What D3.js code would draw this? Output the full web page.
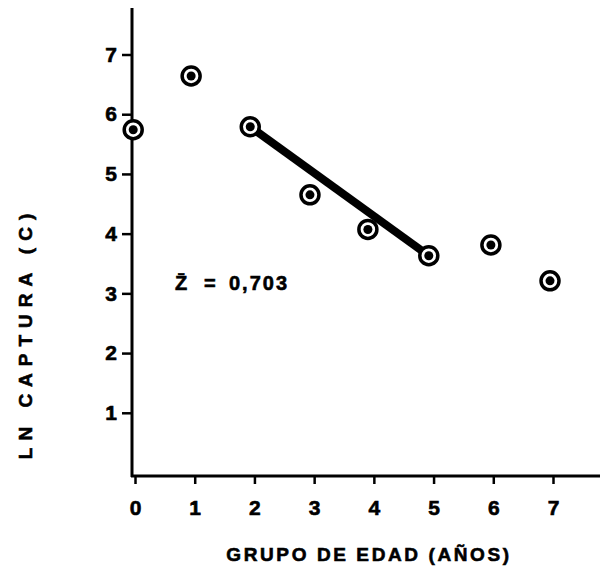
<!DOCTYPE html>
<html>
<head>
  <meta charset="UTF-8">
  <style>
    body { margin: 0; background: #fff; }
    text { font-family: "Liberation Sans", Arial, sans-serif; font-weight: bold; fill: #000; stroke: #000; stroke-width: 0.6px; }
  </style>
</head>
<body>
  <svg width="601" height="569" id="chart"></svg>
  <script src="https://cdn.jsdelivr.net/npm/d3@7"></script>
  <script>
    // age group vs ln of catch
    var ages = [-0.03, 0.94, 1.93, 2.93, 3.9, 4.92, 5.96, 6.95];
    var lnCatch = [5.74, 6.64, 5.79, 4.65, 4.07, 3.63, 3.81, 3.21];
    var xTicks = [0, 1, 2, 3, 4, 5, 6, 7];
    var yTicks = [1, 2, 3, 4, 5, 6, 7];
    var fitFrom = 2, fitTo = 5; // indices of the fitted segment ends

    var svg = d3.select("#chart");

    var x = d3.scaleLinear().domain([0, 7]).range([135, 553]);
    var y = d3.scaleLinear().domain([0, 7]).range([472.5, 54.5]);

    // axes lines
    svg.append("line").attr("x1", 132).attr("x2", 132).attr("y1", 8).attr("y2", 477)
      .attr("stroke", "#000").attr("stroke-width", 3);
    svg.append("line").attr("x1", 131).attr("x2", 600).attr("y1", 476).attr("y2", 476)
      .attr("stroke", "#000").attr("stroke-width", 3);

    var xAxis = svg.append("g").attr("transform", "translate(0,476)")
      .call(d3.axisBottom(x).tickValues(xTicks).tickSize(8).tickPadding(16).tickFormat(d3.format("d")));
    xAxis.select(".domain").remove();
    xAxis.selectAll("line").attr("stroke-width", 2.5);
    xAxis.selectAll("text").attr("font-size", 21);

    var yAxis = svg.append("g").attr("transform", "translate(132,0)")
      .call(d3.axisLeft(y).tickValues(yTicks).tickSize(10).tickPadding(5).tickFormat(d3.format("d")));
    yAxis.select(".domain").remove();
    yAxis.selectAll("line").attr("stroke-width", 2.5);
    yAxis.selectAll("text").attr("font-size", 21);

    // fitted line
    svg.append("line")
      .attr("x1", x(ages[fitFrom])).attr("y1", y(lnCatch[fitFrom]))
      .attr("x2", x(ages[fitTo])).attr("y2", y(lnCatch[fitTo]))
      .attr("stroke", "#000").attr("stroke-width", 8);

    var pts = svg.append("g").selectAll("g").data(ages).enter().append("g")
      .attr("transform", function (d, i) { return "translate(" + x(d) + "," + y(lnCatch[i]) + ")"; });
    pts.append("circle").attr("r", 9).attr("fill", "#fff").attr("stroke", "#000").attr("stroke-width", 3.5);
    pts.append("circle").attr("r", 4.5).attr("fill", "#000");

    var z = svg.append("text").attr("y", 290).attr("font-size", 20);
    z.append("tspan").attr("x", 175).text("Z\u0304");
    z.append("tspan").attr("x", 204).text("=");
    z.append("tspan").attr("x", 229).attr("letter-spacing", 2).text("0,703");

    svg.append("text").attr("x", 369).attr("y", 561).attr("font-size", 19)
      .attr("text-anchor", "middle").attr("letter-spacing", 2.6)
      .text("GRUPO DE EDAD (AÑOS)");

    svg.append("text").attr("transform", "translate(32,333) rotate(-90)").attr("font-size", 19)
      .attr("text-anchor", "middle").attr("letter-spacing", 7)
      .text("LN CAPTURA (C)");
  </script>
</body>
</html>
